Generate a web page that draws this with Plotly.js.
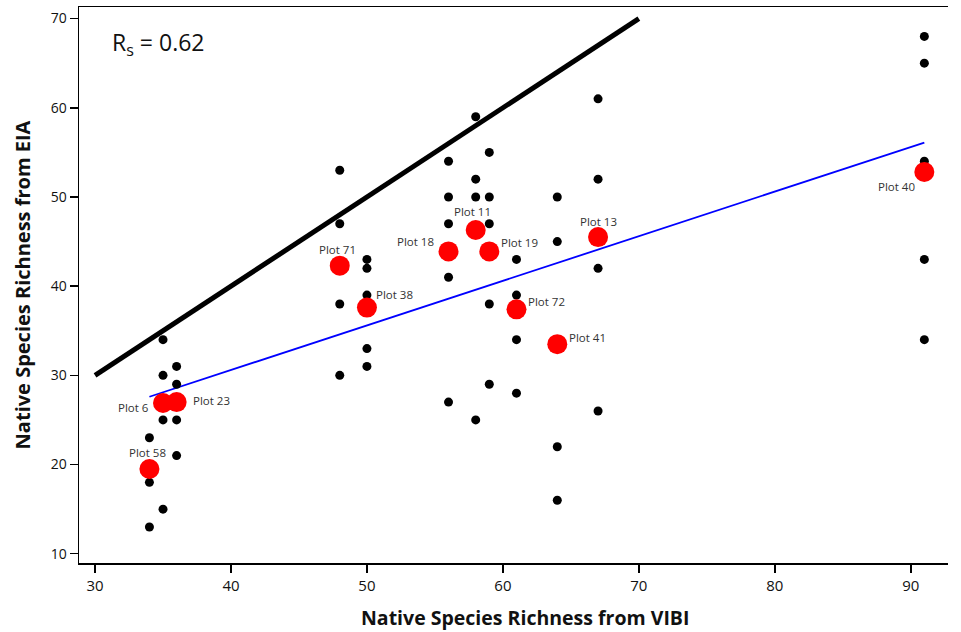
<!DOCTYPE html>
<html>
<head>
<meta charset="utf-8">
<script src="https://cdn.plot.ly/plotly-3.0.1.min.js"></script>
<style>html,body{margin:0;padding:0;background:#fff;}#chart{width:961px;height:632px;}</style>
</head>
<body>
<div id="chart"></div>
<script>
// All plots: native species richness (VIBI vs EIA)
const allVIBI = [34,34,34, 35,35,35,35, 36,36,36,36, 48,48,48,48, 50,50,50,50,50,
  56,56,56,56,56, 58,58,58,58, 59,59,59,59,59, 61,61,61,61, 64,64,64,64, 67,67,67,67, 91,91,91,91,91];
const allEIA = [23,18,13, 34,30,25,15, 31,29,25,21, 53,47,38,30, 43,42,39,33,31,
  54,50,47,41,27, 59,52,50,25, 55,50,47,38,29, 43,39,34,28, 50,45,22,16, 61,52,42,26, 68,65,54,43,34];

// Highlighted plots
const plotNames = ["Plot 6","Plot 23","Plot 58","Plot 71","Plot 38","Plot 18","Plot 11","Plot 19","Plot 72","Plot 41","Plot 13","Plot 40"];
const plotVIBI = [35, 36, 34, 48, 50, 56, 58, 59, 61, 64, 67, 91];
const plotEIA  = [26.9, 27.0, 19.5, 42.3, 37.6, 43.9, 46.3, 43.9, 37.4, 33.5, 45.5, 52.8];

// Reference 1:1 line and fitted regression line
const oneToOneX = [30, 70];
const oneToOneY = [30, 70];
const fitX = [34, 91];
const fitY = [27.6, 56.1];

const rsText = "R<sub>s</sub> = 0.62";
const xTitle = "Native Species Richness from VIBI";
const yTitle = "Native Species Richness from EIA";

// label offsets (pixels) for each highlighted plot label
const labelShiftX = [-30, 35, -2, -2, 28, -33, -3, 30, 30, 30, 0, -28];
const labelShiftY = [-4, 2, 17, 16, 13, 10, 18, 9, 8, 7, 16, -14];

const traces = [
  {x: oneToOneX, y: oneToOneY, mode: 'lines', line: {color: '#000', width: 5}, hoverinfo: 'skip'},
  {x: fitX, y: fitY, mode: 'lines', line: {color: '#0000ff', width: 1.8}, hoverinfo: 'skip'},
  {x: allVIBI, y: allEIA, mode: 'markers', marker: {color: '#000', size: 9}},
  {x: plotVIBI, y: plotEIA, mode: 'markers', marker: {color: '#ff0000', size: 20}}
];

const annotations = plotNames.map((t, i) => ({
  x: plotVIBI[i], y: plotEIA[i], xref: 'x', yref: 'y', text: t, showarrow: false,
  xshift: labelShiftX[i], yshift: labelShiftY[i],
  font: {family: 'Open Sans', size: 11.5, color: '#333'}
}));
annotations.push({
  x: 0.036, y: 0.934, xref: 'paper', yref: 'paper', xanchor: 'left', yanchor: 'middle',
  text: rsText, showarrow: false,
  font: {family: 'Open Sans', size: 23, color: '#111'}
});
annotations.push({
  x: 0.513, y: -0.0985, xref: 'paper', yref: 'paper', xanchor: 'center', yanchor: 'middle',
  text: xTitle, showarrow: false,
  font: {family: 'Open Sans', size: 19.5, color: '#111', weight: 'bold'}
});

const layout = {
  width: 961, height: 632,
  margin: {l: 79, r: 13, t: 7, b: 69},
  paper_bgcolor: '#fff', plot_bgcolor: '#fff',
  showlegend: false,
  font: {family: 'Open Sans', color: '#111'},
  xaxis: {
    range: [28.82, 92.74], tickvals: [30,40,50,60,70,80,90],
    showgrid: false, zeroline: false,
    showline: true, linecolor: '#000', linewidth: 1.5, mirror: true,
    ticks: 'outside', ticklen: 8, tickwidth: 1.5, tickcolor: '#000',
    tickfont: {family: 'Open Sans', size: 15, color: '#111'}
  },
  yaxis: {
    range: [8.96, 71.3], tickvals: [10,20,30,40,50,60,70],
    showgrid: false, zeroline: false,
    showline: true, linecolor: '#000', linewidth: 1.5, mirror: false,
    ticks: 'outside', ticklen: 8, tickwidth: 1.5, tickcolor: '#000',
    tickfont: {family: 'Open Sans', size: 14, color: '#111'},
    title: {text: yTitle, standoff: 14,
      font: {family: 'Open Sans', size: 20, color: '#111', weight: 'bold'}}
  },
  annotations: annotations
};

Plotly.newPlot('chart', traces, layout, {displayModeBar: false, staticPlot: true});
</script>
</body>
</html>
